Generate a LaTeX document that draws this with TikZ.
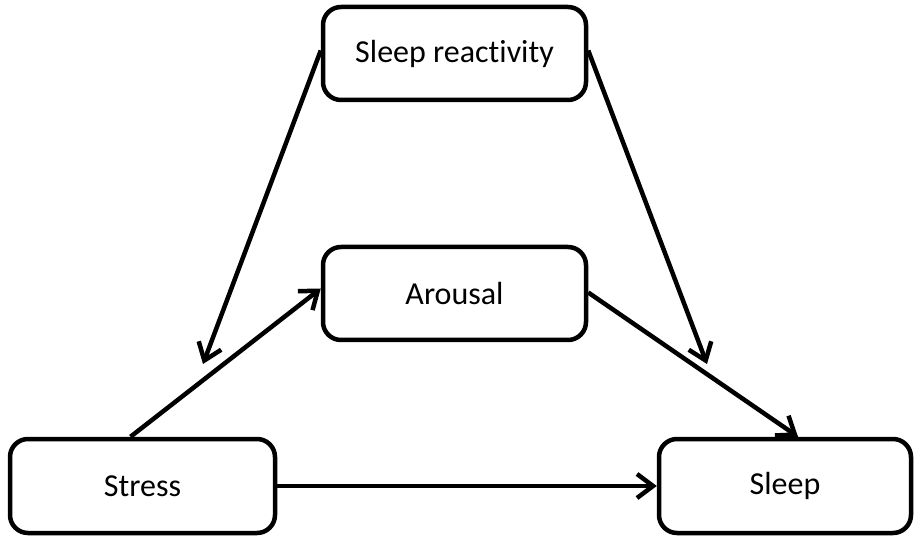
\documentclass[tikz,border=0pt]{standalone}
\usepackage{fontspec}
\setmainfont{Carlito}[Ligatures=NoCommon]
\usetikzlibrary{arrows.meta}
\begin{document}
\begin{tikzpicture}[x=1pt,y=-1pt,
  box/.style={draw=black,line width=4.5pt,rounded corners=18pt,fill=white,
    inner sep=0pt,font=\fontsize{32}{38}\selectfont},
  link/.style={line width=4.5pt,-{Straight Barb[length=16pt,width=24pt,line width=4.5pt]}}]
\useasboundingbox[fill=white] (0,0) rectangle (916,537);
\node[box,minimum width=263pt,minimum height=93pt] (sr) at (454.5,53.5) {Sleep reactivity};
\node[box,minimum width=263pt,minimum height=93pt] (ar) at (454.5,293.5) {Arousal};
\node[box,minimum width=265pt,minimum height=94pt] (st) at (142.5,486) {Stress};
\node[box,minimum width=252pt,minimum height=94pt] (sl) at (785,486) {Sleep};
\coordinate (lt) at (203,364);
\coordinate (rt) at (707,364);
\draw[link] ([yshift=3pt]sr.west) -- (lt);
\draw[link] ([yshift=3pt]sr.east) -- (rt);
\draw[link] ([xshift=-12pt]st.north) -- ([yshift=5pt]ar.west);
\draw[link] ([yshift=1pt]ar.east) -- ([xshift=13pt]sl.north);
\draw[link] (st.east) -- (sl.west);
\end{tikzpicture}
\end{document}
